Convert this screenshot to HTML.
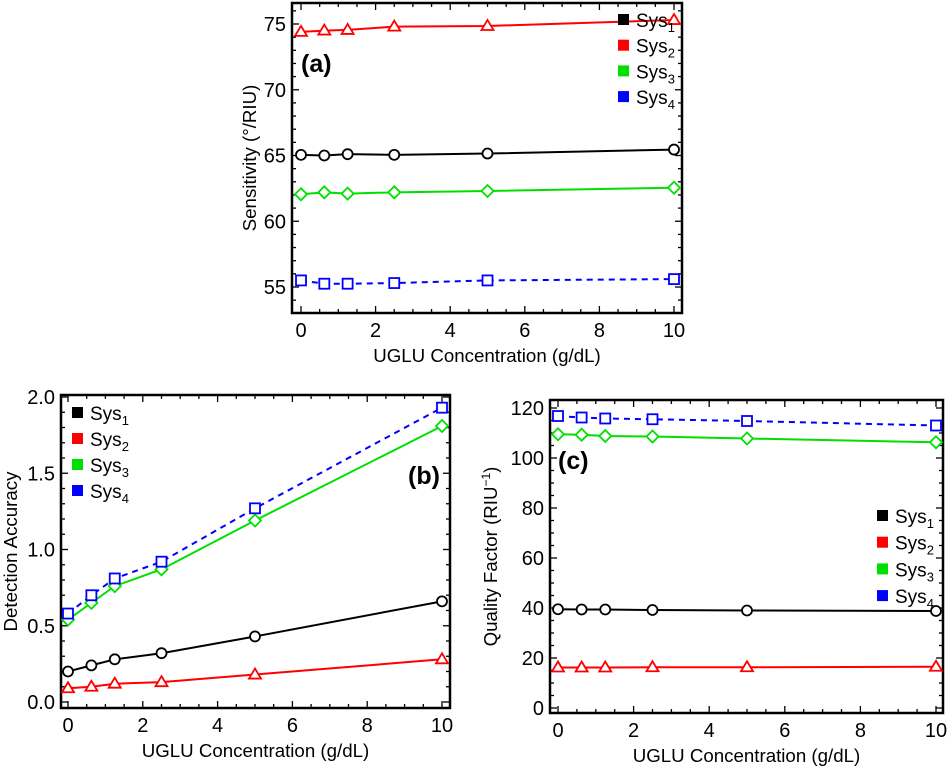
<!DOCTYPE html>
<html><head><meta charset="utf-8"><style>
html,body{margin:0;padding:0;background:#fff;width:948px;height:775px;overflow:hidden}
svg text{font-family:"Liberation Sans",sans-serif}
</style></head><body>
<svg id="fig" width="948" height="775" viewBox="0 0 948 775" xmlns="http://www.w3.org/2000/svg"></svg>
<script>
const xVals=[0,0.625,1.25,2.5,5,10];
const seriesNames=["Sys1","Sys2","Sys3","Sys4"];
const aSys1=[65.05,65.0,65.1,65.05,65.15,65.45];
const aSys2=[74.4,74.5,74.55,74.8,74.85,75.3];
const aSys3=[62.05,62.2,62.1,62.2,62.3,62.55];
const aSys4=[55.5,55.25,55.25,55.3,55.5,55.6];
const bSys1=[0.2,0.24,0.28,0.32,0.43,0.66];
const bSys2=[0.09,0.10,0.12,0.13,0.18,0.28];
const bSys3=[0.54,0.65,0.76,0.87,1.19,1.81];
const bSys4=[0.58,0.70,0.81,0.92,1.27,1.93];
const cSys1=[39.5,39.4,39.4,39.2,39.0,38.8];
const cSys2=[16.2,16.2,16.2,16.3,16.3,16.5];
const cSys3=[109.5,109.3,108.8,108.6,107.8,106.3];
const cSys4=[116.8,116.2,115.8,115.5,114.8,113.0];
const xTicks=[0,2,4,6,8,10];
const aYTicks=[55,60,65,70,75];
const bYTicks=[0,0.5,1,1.5,2];
const bYLabels=["0.0","0.5","1.0","1.5","2.0"];
const cYTicks=[0,20,40,60,80,100,120];

const NS="http://www.w3.org/2000/svg";
const svg=document.getElementById('fig');
function mk(tag,attrs,parent){const e=document.createElementNS(NS,tag);for(const k in attrs)e.setAttribute(k,attrs[k]);(parent||svg).appendChild(e);return e;}
const colors=["#000","#f00","#00e000","#00f"];
const markers=["circle","triangle","diamond","square"];

function panel(cfg){
  const g=mk('g',{});
  
  
  const sx=v=>cfg.x0+(v-0)*(cfg.x10-cfg.x0)/10;
  const sy=v=>cfg.yA+(v-cfg.vA)*(cfg.yB-cfg.yA)/(cfg.vB-cfg.vA);
  const inv=p=>cfg.vA+(p-cfg.yA)*(cfg.vB-cfg.vA)/(cfg.yB-cfg.yA);
  const f=cfg.frame;
  const tg=mk('g',{stroke:'#000','stroke-width':1.3},g);
  
  
  for(let v=-0.5;v<=10.5;v+=0.5){const x=sx(v);if(x<f.l||x>f.r)continue;const maj=Math.abs(v/2-Math.round(v/2))<1e-6;const L=maj?7:4;
    mk('line',{x1:x,x2:x,y1:f.b,y2:f.b-L},tg);mk('line',{x1:x,x2:x,y1:f.t,y2:f.t+L},tg);}
  const vlo=inv(f.b),vhi=inv(f.t);
  for(let k=Math.ceil(Math.min(vlo,vhi)/cfg.minor);k*cfg.minor<=Math.max(vlo,vhi);k++){const v=k*cfg.minor;const y=sy(v);
    const maj=Math.abs(v/cfg.major-Math.round(v/cfg.major))<1e-6;const L=maj?7:4;
    mk('line',{x1:f.l,x2:f.l+L,y1:y,y2:y},tg);mk('line',{x1:f.r,x2:f.r-L,y1:y,y2:y},tg);}
  const fr=mk('rect',{x:f.l,y:f.t,width:f.r-f.l,height:f.b-f.t,fill:'none',stroke:'#000','stroke-width':2.5},g);
  
  
  xTicks.forEach(v=>{const t=mk('text',{x:sx(v),y:f.b+24,'font-size':20,'text-anchor':'middle'},g);t.textContent=v;
    
    });
  cfg.yTicks.forEach((v,i)=>{const t=mk('text',{x:f.l-6,y:sy(v)+7,'font-size':20,'text-anchor':'end'},g);t.textContent=cfg.yLabels?cfg.yLabels[i]:v;
    
    });
  const xt=mk('text',{x:(f.l+f.r)/2,y:f.b+49,'font-size':18.7,'text-anchor':'middle'},g);xt.textContent='UGLU Concentration (g/dL)';
  
  
  const yt=mk('text',{x:0,y:0,'font-size':18.7,'text-anchor':'middle',transform:`translate(${cfg.ytx},${(f.t+f.b)/2}) rotate(-90)`},g);
  yt.innerHTML=cfg.ytitle;
  
  
  cfg.data.forEach((arr,si)=>{
    const sg=mk('g',{},g);
    
    
    const pts=arr.map((v,i)=>[sx(xVals[i]),sy(v)]);
    const pl=mk('polyline',{points:pts.map(p=>p.join(',')).join(' '),fill:'none',stroke:colors[si],'stroke-width':2,'stroke-dasharray':si===3?'6,5':'none'},sg);
    
    
    pts.forEach(([x,y])=>{let m;const st={fill:'#fff',stroke:colors[si],'stroke-width':1.8};
      if(markers[si]==='circle')m=mk('circle',Object.assign({cx:x,cy:y,r:5},st),sg);
      else if(markers[si]==='triangle')m=mk('polygon',Object.assign({points:`${x},${y-6} ${x-6},${y+4} ${x+6},${y+4}`},st),sg);
      else if(markers[si]==='diamond')m=mk('polygon',Object.assign({points:`${x},${y-6} ${x+6},${y} ${x},${y+6} ${x-6},${y}`},st),sg);
      else m=mk('rect',Object.assign({x:x-5,y:y-5,width:10,height:10},st),sg);
      
      });
  });
  const lg=mk('g',{},g);
  
  
  seriesNames.forEach((n,i)=>{const y=cfg.leg.y+i*cfg.leg.dy;
    const e=mk('g',{},lg);
    
    
    mk('rect',{x:cfg.leg.x,y:y-6,width:11,height:11,fill:colors[i]},e);
    const t=mk('text',{x:cfg.leg.x+18,y:y+7,'font-size':19},e);
    t.innerHTML='Sys<tspan font-size="13" dy="5">'+(i+1)+'</tspan>';});
  const pl=mk('text',{x:cfg.lab.x,y:cfg.lab.y,'font-size':25,'font-weight':'bold'},g);pl.textContent=cfg.lab.t;
  
  
}
panel({name:'panel-a-sensitivity',frame:{l:292,r:682,t:3,b:313},x0:301,x10:674,yA:24,vA:75,yB:287,vB:55,
  major:5,minor:1,yTicks:aYTicks,ytx:256,ytitle:'Sensitivity (°/RIU)',data:[aSys1,aSys2,aSys3,aSys4],
  leg:{x:618,y:20,dy:25.7},lab:{x:301,y:72,t:'(a)'}});
panel({name:'panel-b-detection-accuracy',frame:{l:61,r:450,t:395,b:708},x0:68,x10:442,yA:397,vA:2,yB:702,vB:0,
  major:0.5,minor:0.1,yTicks:bYTicks,yLabels:bYLabels,ytx:17,ytitle:'Detection Accuracy',data:[bSys1,bSys2,bSys3,bSys4],
  leg:{x:72,y:413,dy:26},lab:{x:408,y:484,t:'(b)'}});
panel({name:'panel-c-quality-factor',frame:{l:550,r:943,t:400,b:713},x0:558,x10:936,yA:408,vA:120,yB:708,vB:0,
  major:20,minor:5,yTicks:cYTicks,ytx:497,ytitle:'Quality Factor (RIU<tspan font-size="12" dy="-7">−1</tspan><tspan dy="7">)</tspan>',data:[cSys1,cSys2,cSys3,cSys4],
  leg:{x:877,y:516,dy:26.7},lab:{x:558,y:469,t:'(c)'}});
</script>
</body></html>
